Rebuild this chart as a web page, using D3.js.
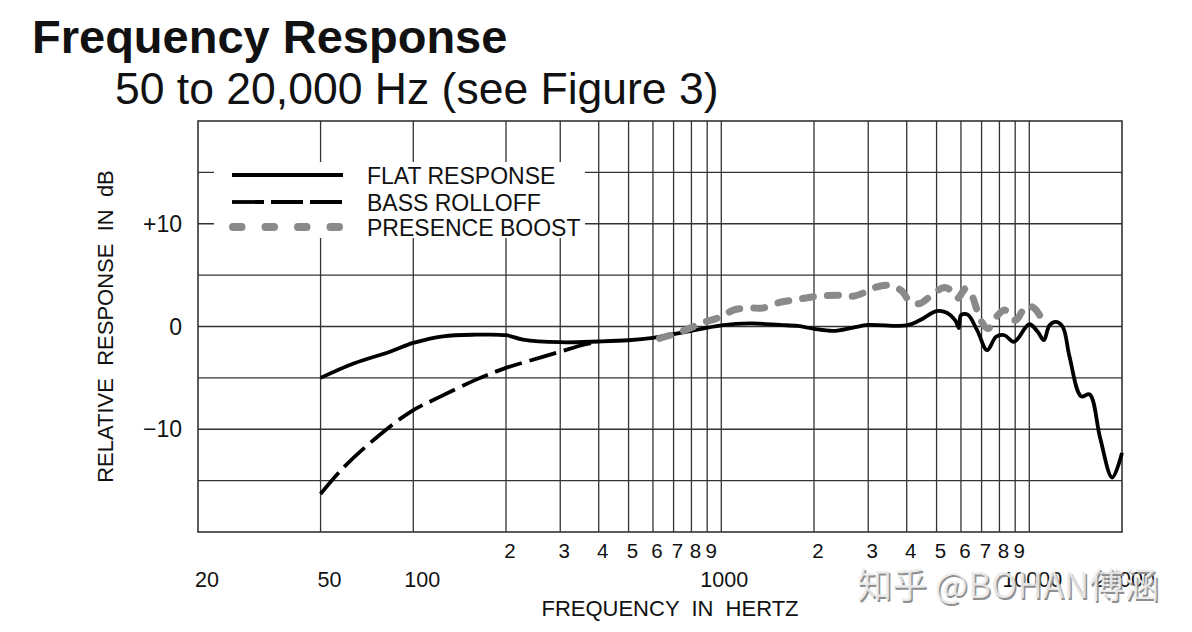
<!DOCTYPE html>
<html>
<head>
<meta charset="utf-8">
<script src="https://cdn.jsdelivr.net/npm/d3@7"></script>
<style>
body { margin: 0; background: #fff; }
text { font-family: "Liberation Sans", Arial, Helvetica, sans-serif; fill: #111; }
</style>
</head>
<body>
<svg id="chart" width="1192" height="632"></svg>
<script>
// flat response (Hz, dB)
const flatFreq = [50, 64, 84, 100, 125, 160, 200, 227, 300, 400, 500, 600, 700, 800, 900, 1000, 1240, 1550, 1770, 2000, 2310, 2680, 3000, 4000, 4410, 5000, 5400, 5750, 5910, 6000, 6310, 6770, 7300, 7800, 8310, 8920, 10000, 10650, 11150, 11630, 12220, 12850, 13500, 14740, 15700, 17000, 18580, 20000];
const flatDb = [-5.0, -3.6, -2.45, -1.6, -0.95, -0.8, -0.85, -1.27, -1.53, -1.46, -1.34, -1.1, -0.74, -0.42, -0.12, 0.12, 0.3, 0.15, 0.05, -0.23, -0.43, -0.1, 0.15, 0.1, 0.6, 1.5, 1.33, 0.6, -0.15, 1.1, 1.15, -0.36, -2.3, -1.0, -0.85, -1.5, 0.22, -0.52, -1.33, 0.13, 0.45, -0.04, -2.9, -6.8, -6.6, -10.9, -14.7, -12.3];

// bass rolloff, only where it leaves the flat curve
const bassFreq = [50, 59, 76, 98, 120, 160, 200, 263, 300, 360, 400];
const bassDb = [-16.3, -13.8, -10.8, -8.3, -6.95, -5.17, -4.03, -2.96, -2.45, -1.75, -1.46];

// presence boost
const presFreq = [630, 700, 800, 853, 1000, 1094, 1240, 1366, 1547, 1767, 2000, 2418, 2683, 3000, 3200, 3540, 3850, 4105, 4414, 4800, 5300, 5640, 5840, 6220, 6480, 6960, 7340, 7900, 8340, 9000, 9800, 10400, 11240];
const presDb = [-1.15, -0.75, -0.1, 0.3, 0.94, 1.6, 1.8, 1.8, 2.34, 2.63, 2.9, 3.05, 2.95, 3.47, 3.86, 4.0, 3.47, 2.4, 2.24, 3.0, 3.8, 3.37, 2.73, 3.7, 3.15, 0.6, -0.2, 1.1, 1.6, 0.6, 2.0, 1.75, 0.13];

const dbGrid = [-15, -10, -5, 0, 5, 10, 15];
const dbLabels = [10, 0, -10];
const freqGrid = [50, 100, 200, 300, 400, 500, 600, 700, 800, 900, 1000, 2000, 3000, 4000, 5000, 6000, 7000, 8000, 9000, 10000];
const minorTicks = [200, 300, 400, 500, 600, 700, 800, 900, 2000, 3000, 4000, 5000, 6000, 7000, 8000, 9000];
const majorTicks = [20, 50, 100, 1000, 10000, 20000];
const legendNames = ["FLAT RESPONSE", "BASS ROLLOFF", "PRESENCE BOOST"];

const svg = d3.select("#chart");
svg.append("rect").attr("width", 1192).attr("height", 632).attr("fill", "#fff");

const x = d3.scaleLog().domain([20, 20000]).range([198, 1122]);
const y = d3.scaleLinear().domain([-20, 20]).range([532, 121]);

// titles
svg.append("text").attr("x", 32).attr("y", 53)
    .style("font-size", "47px").style("font-weight", "bold")
    .text("Frequency Response");
svg.append("text").attr("x", 115).attr("y", 104)
    .style("font-size", "44.5px")
    .text("50 to 20,000 Hz (see Figure 3)");

// grid
const grid = svg.append("g").attr("stroke", "#333").attr("stroke-width", 1.3);
grid.selectAll(".h").data(dbGrid).join("line")
    .attr("x1", x(20)).attr("x2", x(20000))
    .attr("y1", d => y(d)).attr("y2", d => y(d));
grid.selectAll(".v").data(freqGrid).join("line")
    .attr("x1", d => x(d)).attr("x2", d => x(d))
    .attr("y1", y(20)).attr("y2", y(-20));
svg.append("rect")
    .attr("x", x(20)).attr("y", y(20))
    .attr("width", x(20000) - x(20)).attr("height", y(-20) - y(20))
    .attr("fill", "none").attr("stroke", "#333").attr("stroke-width", 1.6);

// y labels
svg.selectAll(".ylab").data(dbLabels).join("text")
    .attr("x", 182).attr("y", d => y(d) + 8)
    .attr("text-anchor", "end").style("font-size", "23px")
    .text(d => d > 0 ? "+" + d : d < 0 ? "\u2212" + Math.abs(d) : "0");

svg.append("text")
    .attr("transform", "translate(113," + y(0) + ") rotate(-90)")
    .attr("text-anchor", "middle").style("font-size", "22px")
    .style("white-space", "pre")
    .text("RELATIVE  RESPONSE  IN  dB");

// x labels
svg.selectAll(".minor").data(minorTicks).join("text")
    .attr("x", d => x(d) + 4).attr("y", 558)
    .attr("text-anchor", "middle").style("font-size", "20.5px")
    .text(d => String(d)[0]);
svg.selectAll(".major").data(majorTicks).join("text")
    .attr("x", d => x(d) + (d < 1000 ? 9 : 3)).attr("y", 587)
    .attr("text-anchor", "middle").style("font-size", "21.5px")
    .text(d => d);
svg.append("text")
    .attr("x", 670).attr("y", 616)
    .attr("text-anchor", "middle").style("font-size", "22px")
    .style("white-space", "pre")
    .text("FREQUENCY  IN  HERTZ");

// legend
svg.append("rect").attr("x", 214).attr("y", 162).attr("width", 371).attr("height", 76).attr("fill", "#fff");
const legY = [175, 202, 227];
const leg = svg.append("g");
leg.append("line").attr("x1", 232).attr("x2", 343).attr("y1", legY[0]).attr("y2", legY[0])
    .attr("stroke", "#000").attr("stroke-width", 3.8);
leg.append("line").attr("x1", 232).attr("x2", 343).attr("y1", legY[1]).attr("y2", legY[1])
    .attr("stroke", "#000").attr("stroke-width", 3.8).attr("stroke-dasharray", "32,7");
leg.append("line").attr("x1", 233).attr("x2", 340).attr("y1", legY[2]).attr("y2", legY[2])
    .attr("stroke", "#8a8a8a").attr("stroke-width", 8).attr("stroke-linecap", "round")
    .attr("stroke-dasharray", "8.5,24");
leg.selectAll("text").data(legendNames).join("text")
    .attr("x", 367).attr("y", (d, i) => legY[i] + 8.5)
    .style("font-size", "23px")
    .text(d => d);

// curves
const line = d3.line().x(d => x(d[0])).y(d => y(d[1])).curve(d3.curveCatmullRom.alpha(0.5));
const zip = (a, b) => a.map((v, i) => [v, b[i]]);

svg.append("path").datum(zip(bassFreq, bassDb)).attr("d", line)
    .attr("fill", "none").attr("stroke", "#000").attr("stroke-width", 3.8)
    .attr("stroke-dasharray", "28,8");
svg.append("path").datum(zip(flatFreq, flatDb)).attr("d", line)
    .attr("fill", "none").attr("stroke", "#000").attr("stroke-width", 3.8)
    .attr("stroke-linejoin", "round");
svg.append("path").datum(zip(presFreq, presDb)).attr("d", line)
    .attr("fill", "none").attr("stroke", "#8a8a8a").attr("stroke-width", 7)
    .attr("stroke-linecap", "round").attr("stroke-dasharray", "11,14");

// watermark
const wm = "\u77e5\u4e4e @BOHAN\u5085\u6db5";
svg.append("text").attr("x", 858.5).attr("y", 599.5)
    .style("font-family", "'Noto Sans CJK SC', sans-serif").style("font-size", "35px")
    .style("fill", "#8f8f8f").style("white-space", "pre").text(wm);
svg.append("text").attr("x", 857).attr("y", 598)
    .style("font-family", "'Noto Sans CJK SC', sans-serif").style("font-size", "35px")
    .style("fill", "#ececec").style("fill-opacity", 0.9).style("white-space", "pre").text(wm);
</script>
</body>
</html>
